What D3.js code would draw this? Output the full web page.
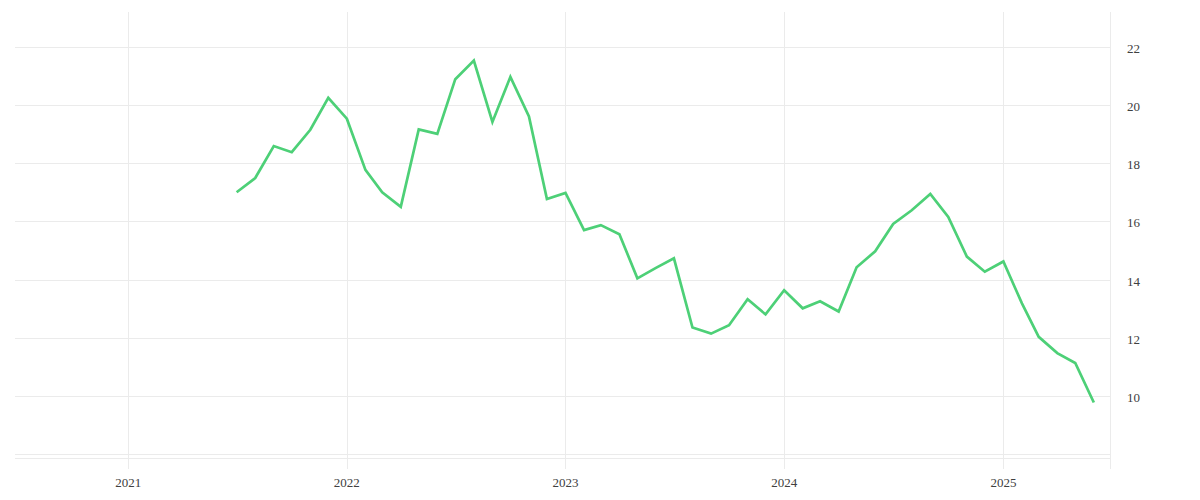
<!DOCTYPE html>
<html>
<head>
<meta charset="utf-8">
<script src="https://cdn.jsdelivr.net/npm/d3@7"></script>
<style>
  html, body { margin: 0; padding: 0; background: #fff; }
  #chart text { font-family: "Liberation Serif", serif; font-size: 13px; fill: #404040; }
</style>
</head>
<body>
<div id="chart"></div>
<script>
// Monthly values, Jul 2021 .. Jun 2025
const startMonth = '2021-07';
const values = [
  17.00, 17.49, 18.59, 18.38, 19.15, 20.25,               // 2021 Jul-Dec
  19.53, 17.77, 17.00, 16.50, 19.16, 19.01,               // 2022 Jan-Jun
  20.89, 21.53, 19.42, 20.97, 19.61, 16.77,               // 2022 Jul-Dec
  16.98, 15.70, 15.87, 15.56, 14.04, 14.40,               // 2023 Jan-Jun
  14.73, 12.35, 12.14, 12.43, 13.32, 12.80,               // 2023 Jul-Dec
  13.63, 13.01, 13.25, 12.90, 14.42, 14.97,               // 2024 Jan-Jun
  15.91, 16.38, 16.94, 16.15, 14.79, 14.27,               // 2024 Jul-Dec
  14.62, 13.18, 12.03, 11.47, 11.13, 9.77                 // 2025 Jan-Jun
];
const yTicks = [10, 12, 14, 16, 18, 20, 22];
const xTickYears = [2021, 2022, 2023, 2024, 2025];

const width = 1200;
const height = 500;
const plot = { left: 15, right: 1110, top: 12, bottom: 454 };

const parseMonth = d3.timeParse('%Y-%m');
const t0 = parseMonth(startMonth);
const data = values.map((v, i) => ({ date: d3.timeMonth.offset(t0, i), value: v }));

const x = d3.scaleTime()
  .domain([new Date(2020, 5, 26), new Date(2025, 5, 28)])
  .range([plot.left, plot.right]);

const y = d3.scaleLinear()
  .domain([8, 23.2])
  .range([plot.bottom, plot.top]);

const svg = d3.select('#chart')
  .append('svg')
  .attr('width', width)
  .attr('height', height);

const grid = svg.append('g').attr('stroke', '#ebebeb').attr('stroke-width', 1);

// horizontal gridlines
grid.selectAll('.hgrid')
  .data(yTicks)
  .enter()
  .append('line')
  .attr('x1', plot.left)
  .attr('x2', plot.right)
  .attr('y1', (d) => Math.round(y(d)) + 0.5)
  .attr('y2', (d) => Math.round(y(d)) + 0.5);

// bottom double line
[plot.bottom, plot.bottom + 4].forEach((yy) => {
  grid.append('line')
    .attr('x1', plot.left)
    .attr('x2', plot.right)
    .attr('y1', yy + 0.5)
    .attr('y2', yy + 0.5);
});

// vertical gridlines at year starts, plus the right edge
const yearDates = xTickYears.map((yr) => new Date(yr, 0, 1));
grid.selectAll('.vgrid')
  .data(yearDates)
  .enter()
  .append('line')
  .attr('x1', (d) => Math.round(x(d)) + 0.5)
  .attr('x2', (d) => Math.round(x(d)) + 0.5)
  .attr('y1', plot.top)
  .attr('y2', plot.bottom + 15);

grid.append('line')
  .attr('x1', plot.right + 0.5)
  .attr('x2', plot.right + 0.5)
  .attr('y1', plot.top)
  .attr('y2', plot.bottom + 15);

// y labels on the right
svg.append('g')
  .selectAll('text')
  .data(yTicks)
  .enter()
  .append('text')
  .attr('x', plot.right + 17)
  .attr('y', (d) => y(d) + 3)
  .attr('dominant-baseline', 'middle')
  .attr('text-anchor', 'start')
  .text((d) => d);

// x labels
svg.append('g')
  .selectAll('text')
  .data(yearDates)
  .enter()
  .append('text')
  .attr('x', (d) => x(d))
  .attr('y', 487)
  .attr('text-anchor', 'middle')
  .text((d) => d3.timeFormat('%Y')(d));

// the line
const line = d3.line()
  .x((d) => x(d.date))
  .y((d) => y(d.value));

svg.append('path')
  .datum(data)
  .attr('fill', 'none')
  .attr('stroke', '#4dd077')
  .attr('stroke-width', 2.7)
  .attr('stroke-linejoin', 'miter')
  .attr('d', line);
</script>
</body>
</html>
